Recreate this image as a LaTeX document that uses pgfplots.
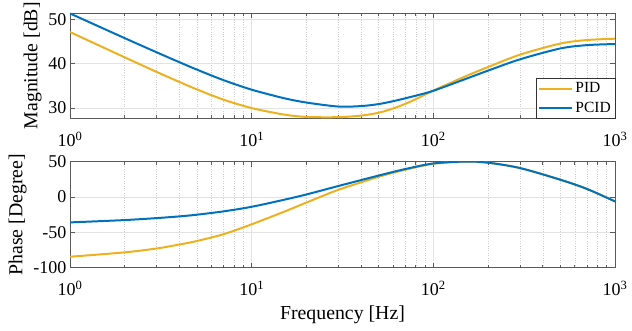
\documentclass[border=0pt]{standalone}
\usepackage{fontspec}
\setmainfont{Liberation Serif}
\usepackage{pgfplots}
\pgfplotsset{compat=1.18}
\definecolor{pidc}{rgb}{0.929,0.694,0.125}
\definecolor{pcidc}{rgb}{0,0.447,0.741}

\begin{document}
\begin{tikzpicture}
\path[use as bounding box] (0,0) rectangle (632pt,331pt);

\begin{axis}[
  at={(70pt,212.5pt)}, anchor=south west,
  scale only axis, width=545pt, height=105.5pt,
  xmode=log, xmin=1, xmax=1000,
  xtick={1,10,100,1000},
  xticklabels={10\textsuperscript{0},10\textsuperscript{1},10\textsuperscript{2},10\textsuperscript{3}},
  minor xtick={2,3,4,5,6,7,8,9,20,30,40,50,60,70,80,90,200,300,400,500,600,700,800,900},
  grid=both,
  major grid style={gray!22, line width=0.6pt},
  minor grid style={gray!40, dotted, line width=0.4pt},
  tick align=inside,
  major tick length=5pt, minor tick length=3pt,
  axis line style={black!65, line width=0.6pt},
  every tick/.style={black!65, line width=0.5pt},
  ticklabel style={font=\fontsize{18}{20}\selectfont},
  xticklabel style={yshift=-10pt},
  label style={font=\fontsize{19.8}{22}\selectfont},
  ymin=27.6, ymax=51.4,
  ytick={30,40,50},
  yticklabels={30,40,50},
  ylabel={Magnitude [dB]},
  legend style={at={(1,0)}, anchor=south east, draw=black!80, line width=0.5pt,
    font=\fontsize{15.5}{17}\selectfont, inner xsep=2pt, inner ysep=2.5pt, row sep=3.5pt},
  legend cell align=left,
  legend image code/.code={\draw[#1, line width=2pt] (0pt,0pt) -- (33pt,0pt);},
]
\addplot[pidc, line width=2pt, smooth] coordinates {
(1,47.1)(2,41.4)(3,38.1)(4,35.85)(5,34.15)(7,31.85)(10,29.95)(15,28.5)(20,27.95)
(30,27.9)(40,28.25)(50,28.9)(60,29.85)(70,30.9)(80,31.95)(100,33.9)(150,37.1)
(200,39.2)(300,42.0)(500,44.5)(700,45.3)(1000,45.6)};
\addlegendentry{PID}
\addplot[pcidc, line width=2pt, smooth] coordinates {
(1,51.3)(2,45.73)(3,42.53)(4,40.3)(5,38.62)(7,36.25)(10,34.1)(15,32.2)(20,31.2)
(30,30.3)(40,30.4)(50,30.85)(60,31.5)(70,32.15)(80,32.75)(100,33.85)(150,36.5)
(200,38.4)(300,40.95)(500,43.4)(700,44.15)(1000,44.4)};
\addlegendentry{PCID}
\end{axis}

\begin{axis}[
  at={(70pt,63.3pt)}, anchor=south west,
  scale only axis, width=545pt, height=106pt,
  xmode=log, xmin=1, xmax=1000,
  xtick={1,10,100,1000},
  xticklabels={10\textsuperscript{0},10\textsuperscript{1},10\textsuperscript{2},10\textsuperscript{3}},
  minor xtick={2,3,4,5,6,7,8,9,20,30,40,50,60,70,80,90,200,300,400,500,600,700,800,900},
  grid=both,
  major grid style={gray!22, line width=0.6pt},
  minor grid style={gray!40, dotted, line width=0.4pt},
  tick align=inside,
  major tick length=5pt, minor tick length=3pt,
  axis line style={black!65, line width=0.6pt},
  every tick/.style={black!65, line width=0.5pt},
  ticklabel style={font=\fontsize{18}{20}\selectfont},
  xticklabel style={yshift=-10pt},
  label style={font=\fontsize{19.8}{22}\selectfont},
  xlabel style={yshift=-3pt},
  ymin=-100, ymax=50,
  ytick={-100,-50,0,50},
  yticklabels={-100,-50,0,50},
  ylabel={Phase [Degree]},
  xlabel={Frequency [Hz]},
]
\addplot[pidc, line width=2pt, smooth] coordinates {
(1,-84.5)(2,-78.3)(3,-72.8)(4,-67.2)(5,-62.2)(7,-52.6)(10,-38.6)(15,-21.0)(20,-7.9)
(30,10.2)(50,28.6)(70,38.5)(100,47.0)(150,50.2)(200,48.6)(300,41.0)(500,24.5)(700,11.5)(1000,-6.2)};
\addplot[pcidc, line width=2pt, smooth] coordinates {
(1,-35.9)(2,-32.6)(3,-29.8)(4,-27.4)(5,-25.0)(7,-20.3)(10,-13.8)(15,-4.0)(20,3.6)
(30,15.6)(50,30.4)(70,39.6)(100,47.5)(150,50.2)(200,48.6)(300,41.0)(500,24.5)(700,11.5)(1000,-6.2)};
\end{axis}
\end{tikzpicture}
\end{document}
